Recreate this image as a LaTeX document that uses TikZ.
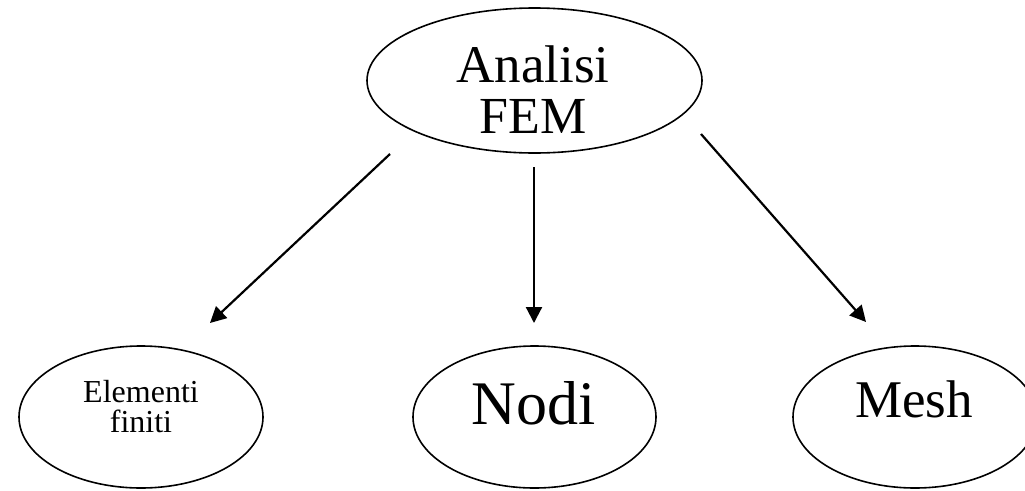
\documentclass[tikz,border=0pt]{standalone}
\usepackage{fontspec}
\setmainfont{Liberation Serif}
\usetikzlibrary{shapes.geometric,arrows.meta}
\tikzset{
  oval/.style={draw=black, shape=ellipse, line width=1.6pt, inner sep=0pt},
  lbl/.style={anchor=base, inner sep=0pt},
  conn/.style={line width=2.2pt, -{Triangle[length=16pt,width=16pt]}}
}
\begin{document}
\begin{tikzpicture}[x=1pt,y=-1pt]
\useasboundingbox (0,0) rectangle (1025,490);
\clip (0,0) rectangle (1025,490);
\node[oval, minimum width=335pt, minimum height=145pt] (top) at (534.5,80.5) {};
\node[oval, minimum width=244pt, minimum height=142pt] (elem) at (141,417) {};
\node[oval, minimum width=243pt, minimum height=142pt] (nodi) at (534.5,417) {};
\node[oval, minimum width=244pt, minimum height=142pt] (mesh) at (915,417) {};
\node[lbl, font=\fontsize{53}{53}\selectfont] (t1) at (533,82) {Analisi};
\node[lbl, font=\fontsize{52}{52}\selectfont] (t2) at (533,133) {FEM};
\node[lbl, font=\fontsize{32}{32}\selectfont] (e1) at (141,402) {Elementi};
\node[lbl, font=\fontsize{32}{32}\selectfont] (e2) at (141,432) {finiti};
\node[lbl, font=\fontsize{62}{62}\selectfont] (n1) at (533.5,424) {Nodi};
\node[lbl, font=\fontsize{53}{53}\selectfont] (m1) at (914,417) {Mesh};
\coordinate (a1s) at (390,154);
\coordinate (a1e) at (210,323);
\coordinate (a2s) at (534,167);
\coordinate (a2e) at (534,323);
\coordinate (a3s) at (701,134);
\coordinate (a3e) at (866,322);
\draw[conn] (a1s) -- (a1e);
\draw[conn] (a2s) -- (a2e);
\draw[conn] (a3s) -- (a3e);
\end{tikzpicture}
\end{document}
